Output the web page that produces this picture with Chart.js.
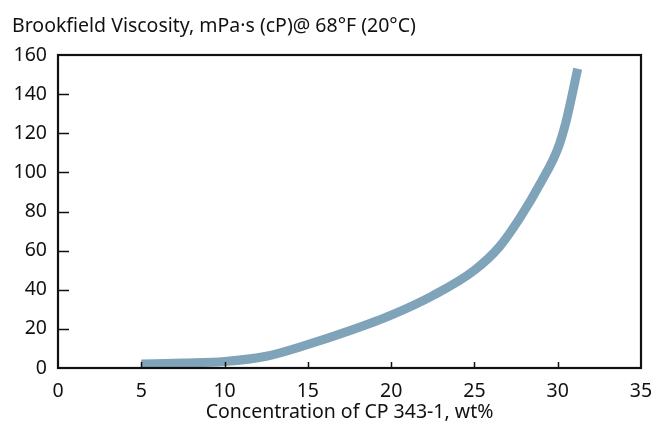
<!DOCTYPE html>
<html>
<head>
<meta charset="utf-8">
<script src="https://cdn.jsdelivr.net/npm/chart.js@4/dist/chart.umd.min.js"></script>
<style>
    html, body { margin: 0; padding: 0; background: #fff; }
    #chartBox { width: 652px; height: 425px; }
</style>
</head>
<body>
<div id="chartBox"><canvas id="myLineChart"></canvas></div>
<script>
// values
var concentration = [5, 7.5, 10, 12.5, 15, 17.5, 20, 22.5, 25, 26.5, 27.75, 29, 30, 30.5, 31.2];
var viscosity = [2, 2.5, 3.3, 6, 12, 19, 27, 37, 50, 62, 77, 95, 112, 126, 153];
var xTicks = [0, 5, 10, 15, 20, 25, 30, 35];
var yTicks = [0, 20, 40, 60, 80, 100, 120, 140, 160];

var chartTitle = 'Brookfield Viscosity, mPa\u00b7s (cP)@ 68\u00b0F (20\u00b0C)';
var xAxisTitle = 'Concentration of CP 343-1, wt%';

var ViscosityChart = {

    color: '#7fa3b9',
    fontFamily: '"Noto Sans", "Open Sans", sans-serif',

    // black frame round the plot + short ticks pointing inwards
    framePlugin: {
        id: 'frame',
        afterDatasetsDraw: function(chart) {
            var ctx = chart.ctx;
            var area = chart.chartArea;
            var x = chart.scales.x;
            var y = chart.scales.y;
            ctx.save();
            ctx.strokeStyle = '#111';
            ctx.lineWidth = 1.5;
            ctx.beginPath();
            xTicks.forEach(function(v) {
                if (v <= x.min || v >= x.max) return;
                var px = Math.round(x.getPixelForValue(v)) + 0.5;
                ctx.moveTo(px, area.bottom);
                ctx.lineTo(px, area.bottom - 6);
            });
            yTicks.forEach(function(v) {
                if (v <= y.min || v >= y.max) return;
                var py = Math.round(y.getPixelForValue(v)) + 0.5;
                ctx.moveTo(area.left, py);
                ctx.lineTo(area.left + 11, py);
            });
            ctx.stroke();
            ctx.lineWidth = 2.2;
            ctx.strokeRect(area.left, area.top, area.right - area.left, area.bottom - area.top);
            ctx.restore();
        }
    },

    init: function() {
        var self = this;
        var font = { family: this.fontFamily, size: 19.5 };

        var ctx = document.getElementById('myLineChart').getContext('2d');
        new Chart(ctx, {
            type: 'line',
            plugins: [this.framePlugin],
            data: {
                datasets: [{
                    data: concentration.map(function(c, i) {
                        return { x: c, y: viscosity[i] };
                    }),
                    borderColor: self.color,
                    borderWidth: 9,
                    borderCapStyle: 'butt',
                    cubicInterpolationMode: 'monotone',
                    pointRadius: 0,
                    fill: false,
                    clip: false
                }]
            },
            options: {
                responsive: true,
                maintainAspectRatio: false,
                animation: false,
                layout: {
                    padding: { left: 12, right: 11, top: 0, bottom: 0 }
                },
                plugins: {
                    legend: { display: false },
                    tooltip: { enabled: false },
                    title: {
                        display: true,
                        text: chartTitle,
                        align: 'start',
                        color: '#111',
                        font: { family: this.fontFamily, size: 19.5, weight: 'normal' },
                        padding: { top: 15, bottom: 16.6 }
                    }
                },
                scales: {
                    x: {
                        type: 'linear',
                        min: 0,
                        max: 35,
                        afterBuildTicks: function(scale) {
                            scale.ticks = xTicks.map(function(v) { return { value: v }; });
                        },
                        afterFit: function(scale) {
                            scale.height = 57;
                            scale.paddingLeft = 0;
                            scale.paddingRight = 0;
                        },
                        grid: { display: false, drawTicks: false },
                        border: { display: false },
                        ticks: { color: '#111', font: font, padding: 12, maxRotation: 0 },
                        title: {
                            display: true,
                            text: xAxisTitle,
                            color: '#111',
                            font: font,
                            padding: { top: 0, bottom: 1 }
                        }
                    },
                    y: {
                        min: 0,
                        max: 160,
                        afterBuildTicks: function(scale) {
                            scale.ticks = yTicks.map(function(v) { return { value: v }; });
                        },
                        afterFit: function(scale) {
                            scale.width = 46;
                            scale.paddingTop = 0;
                            scale.paddingBottom = 0;
                        },
                        grid: { display: false, drawTicks: false },
                        border: { display: false },
                        ticks: { color: '#111', font: font, padding: 11 }
                    }
                }
            }
        });
    }
};

ViscosityChart.init();
</script>
</body>
</html>
